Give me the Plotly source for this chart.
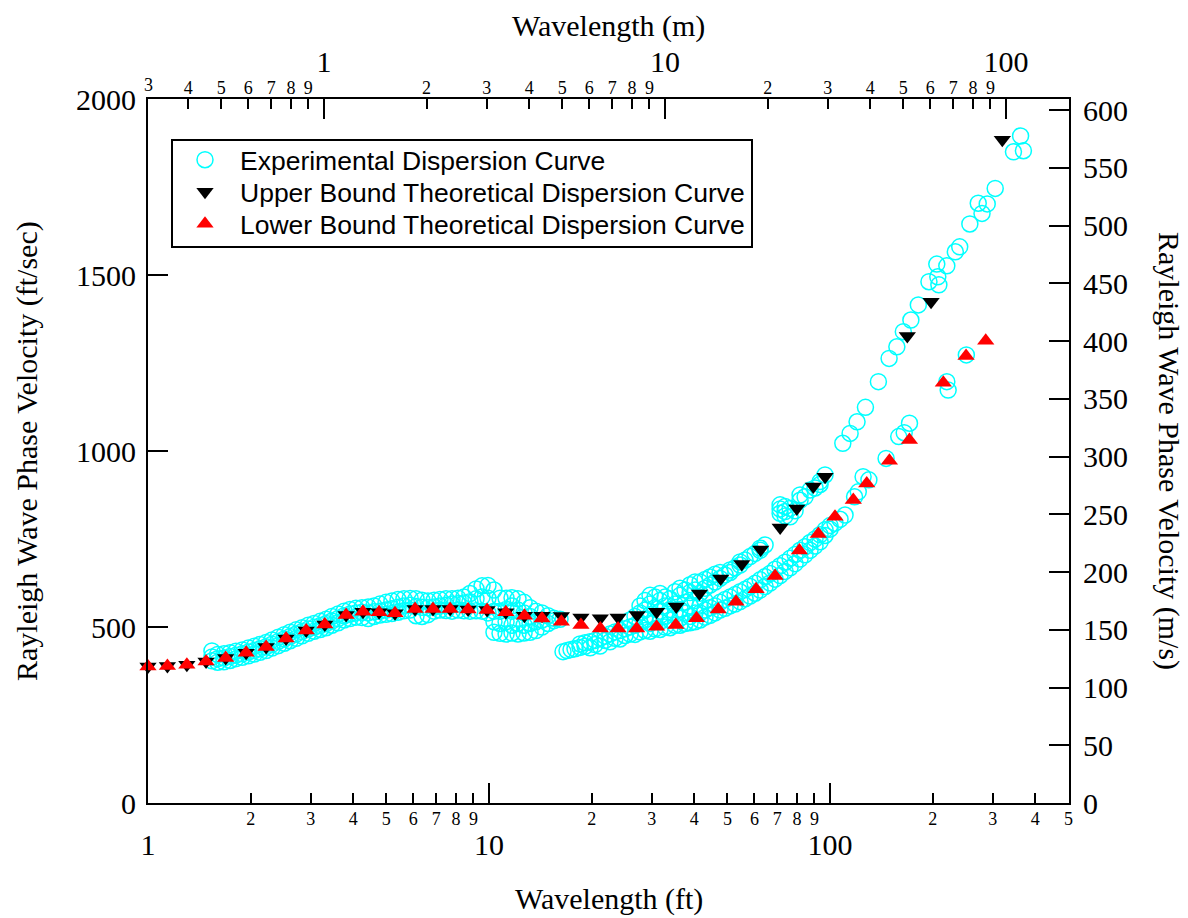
import math
import plotly.graph_objects as go

# ---------------- data (wavelength in ft, phase velocity in ft/s) ----------------
upper_ft = [1.0, 1.14, 1.30, 1.48, 1.69, 1.94, 2.22, 2.54, 2.91, 3.30, 3.81, 4.27, 4.76, 5.30,
            6.07, 6.85, 7.69, 8.68, 9.87, 11.2, 12.7, 14.3, 16.3, 18.6, 21.2, 23.9, 27.2, 31.0,
            35.4, 41.4, 47.8, 55.1, 62.6, 71.4, 79.9, 89.3, 96.7, 168.5, 197.8, 320.0]
upper_v = [388, 389, 393, 402, 412, 427, 443, 467, 490, 507, 534, 543, 542, 539,
           551, 551, 551, 550, 548, 542, 532, 532, 531, 527, 525, 527, 534, 543,
           558, 595, 638, 679, 720, 783, 837, 899, 927, 1327, 1424, 1884]

lower_ft = [1.0, 1.14, 1.30, 1.48, 1.69, 1.94, 2.22, 2.54, 2.91, 3.30, 3.81, 4.27, 4.76, 5.30,
            6.07, 6.85, 7.69, 8.68, 9.87, 11.2, 12.7, 14.3, 16.3, 18.6, 21.2, 23.9, 27.1, 31.0,
            35.3, 40.6, 47.0, 53.0, 60.7, 69.0, 81.3, 92.4, 103.4, 117.0, 128.1, 149.3, 170.9,
            214.9, 250.5, 286.1]
lower_v = [388, 389, 393, 402, 412, 427, 443, 467, 490, 507, 534, 543, 542, 539,
           551, 551, 551, 550, 548, 542, 532, 524, 515, 506, 496, 496, 496, 501,
           506, 525, 550, 572, 607, 645, 717, 764, 813, 861, 908, 972, 1031,
           1194, 1270, 1313]

# experimental dispersion curve: dense part (several velocities per wavelength)
exp_ft = [1.54, 1.60, 1.67, 1.74, 1.81, 1.89, 1.97, 2.05, 2.13, 2.22, 2.31, 2.41, 2.51, 2.61,
          2.72, 2.83, 2.95, 3.07, 3.20, 3.33, 3.46, 3.61, 3.76, 3.91, 4.07, 4.24, 4.42, 4.60,
          4.79, 4.99, 5.19, 5.41, 5.63, 5.87, 6.11, 6.36, 6.62, 6.90, 7.18, 7.48, 7.79, 8.11,
          8.44, 8.79, 9.16, 9.54, 9.93, 10.34, 10.77, 11.22, 11.68, 12.16, 12.67, 13.19, 13.73,
          14.30, 14.89, 15.50, 16.15,
          16.48, 16.93, 17.40, 17.87, 18.49, 19.12, 19.78, 20.46, 21.16, 21.89, 22.63, 23.41,
          24.22, 25.05, 25.91, 26.80, 27.72, 28.67, 29.66, 30.68, 31.73, 32.82, 33.95, 35.12,
          36.32, 37.57, 38.86, 40.19, 41.58, 43.00, 44.48, 46.01, 47.59, 49.22, 50.91, 52.66,
          54.47, 56.34, 58.28, 60.28, 62.35, 64.49, 66.70, 68.99, 71.37, 73.82, 76.35, 78.98,
          81.66, 84.47, 87.37, 90.36, 93.48, 96.67, 100.0, 103.4, 106.98, 110.66]
exp_v = [[432, 415, 404], [422, 410, 400], [424, 412, 401], [427, 416, 405], [431, 420, 410],
         [435, 424, 414], [440, 429, 418], [445, 433, 423], [450, 438, 428], [456, 444, 433],
         [463, 451, 440], [471, 459, 447], [478, 466, 454], [485, 473, 461], [492, 480, 468],
         [498, 487, 475], [505, 494, 482], [510, 499, 488], [516, 504, 493], [522, 510, 498],
         [530, 517, 505], [537, 524, 512], [545, 532, 520], [550, 537, 524], [553, 540, 528],
         [555, 542, 527], [557, 540, 524], [560, 543, 530], [565, 545, 534], [570, 548, 536],
         [574, 552, 538], [578, 556, 542], [580, 560, 546], [581, 562, 548], [580, 558, 532],
         [576, 556, 530], [574, 555, 535], [576, 557, 545], [578, 560, 548], [580, 562, 547],
         [580, 565, 545], [582, 566, 548], [585, 568, 546], [595, 572, 545], [608, 580, 546],
         [617, 585, 545], [618, 582, 540], [605, 545, 515, 485], [582, 545, 510, 482],
         [582, 550, 515, 480], [583, 560, 545, 505, 483], [580, 548, 510, 480],
         [570, 540, 505, 483], [555, 530, 510, 485], [545, 515, 490], [540, 520, 500],
         [532, 510], [525, 518], [522],
         [430], [433], [436], [438], [442, 452], [445, 455], [441, 458], [450, 462], [446, 468],
         [462, 474], [458, 480], [468, 486], [466, 490], [476, 495], [480, 500, 520],
         [479, 505, 530], [486, 512, 540, 560], [490, 520, 548, 575], [488, 510, 535, 565, 590],
         [495, 525, 555, 585], [493, 515, 545, 575, 595], [500, 530, 560, 585],
         [498, 520, 550, 580], [505, 535, 565, 600], [505, 525, 550, 590, 610],
         [510, 540, 570, 605], [512, 530, 560, 598, 620], [515, 540, 575, 605, 628],
         [520, 540, 560, 596, 628], [528, 548, 575, 610, 635], [533, 555, 619, 642],
         [540, 560, 628, 650], [548, 570, 638, 655], [553, 578, 648], [560, 585, 655, 662],
         [565, 592, 668], [572, 600, 676, 685], [580, 607, 690], [588, 615, 700],
         [596, 624, 709], [605, 634, 718, 724], [615, 643, 733], [625, 652], [636, 664],
         [646, 674, 823, 835, 847], [658, 684, 815, 828, 842], [668, 695, 813, 837],
         [680, 706, 830], [693, 718, 860, 875], [705, 728, 870], [718, 740, 889],
         [730, 750, 895], [742, 762, 905, 913], [760, 776, 932], [778, 788], [795], [806], [818]]

# experimental dispersion curve: sparse long-wavelength points
exp_hi_ft = [109.0, 114.5, 120.0, 127.0, 138.6, 149.0, 157.0, 164.0, 172.6, 181.5, 195.0, 205.6,
             207.0, 208.5, 220.0, 233.0, 240.0, 257.0, 272.0, 279.0, 289.0, 305.0, 345.0, 362.0,
             369.0,
             118.0, 121.0, 125.0, 130.0, 146.0, 159.0, 165.0, 171.0, 220.0, 222.0, 251.0]
exp_hi_v = [1022, 1050, 1083, 1124, 1197, 1263, 1296, 1339, 1372, 1415, 1481, 1531,
            1495, 1472, 1526, 1566, 1580, 1645, 1704, 1675, 1702, 1746, 1850, 1895,
            1853,
            870, 884, 927, 918, 979, 1041, 1052, 1079, 1197, 1173, 1273]

# axis ticks
ft_minor = [2, 3, 4, 5, 6, 7, 8, 9, 20, 30, 40, 50, 60, 70, 80, 90, 200, 300, 400, 500]
ft_major = [1, 10, 100]
m_minor = [0.4, 0.5, 0.6, 0.7, 0.8, 0.9, 2, 3, 4, 5, 6, 7, 8, 9, 20, 30, 40, 50, 60, 70, 80, 90]
m_major = [1, 10, 100]
fps_ticks = [0, 500, 1000, 1500, 2000]
ms_ticks = [0, 50, 100, 150, 200, 250, 300, 350, 400, 450, 500, 550, 600]

legend_names = ['Experimental Dispersion Curve',
                'Upper Bound Theoretical Dispersion Curve',
                'Lower Bound Theoretical Dispersion Curve']

FT_TO_M = 0.3048
X_MAX_FT = 502.0

# ---------------- build ----------------
ex, ey = [], []
for f, vs in zip(exp_ft, exp_v):
    for v in vs:
        ex.append(f)
        ey.append(v)
ex += exp_hi_ft
ey += exp_hi_v


def lead(v):
    s = ('%g' % v)
    return s.replace('0.', '')[0] if v < 1 else s[0]


SERIF = 'Liberation Serif'
SANS = 'Liberation Sans'

# page body has an 8 px margin: figure is placed at (8, 8)
W, H = 1180, 910
PL, PR, PT, PB = 140, 119, 91, 115           # plot area = page x 148..1069, y 99..803
PW = W - PL - PR                              # 921
PH = H - PT - PB                              # 704


def px_x(page_x):
    return (page_x - 148) / PW


def px_y(page_y):
    return (803 - page_y) / PH


fig = go.Figure()
fig.add_trace(go.Scatter(
    x=ex, y=ey, mode='markers', name=legend_names[0], legend='legend',
    marker=dict(symbol='circle-open', size=16, color='#00FFFF', line=dict(width=1.5, color='#00FFFF')),
    cliponaxis=False))
fig.add_trace(go.Scatter(
    x=upper_ft, y=upper_v, mode='markers', name=legend_names[1], legend='legend2',
    marker=dict(symbol='triangle-down', size=15, color='black', line=dict(width=0)),
    cliponaxis=False))
fig.add_trace(go.Scatter(
    x=lower_ft, y=lower_v, mode='markers', name=legend_names[2], legend='legend3',
    marker=dict(symbol='triangle-up', size=15, color='#FF0000', line=dict(width=0)),
    cliponaxis=False))
# empty traces so that the secondary axes are attached
for xa, ya in [('x2', 'y2'), ('x3', 'y'), ('x4', 'y')]:
    fig.add_trace(go.Scatter(x=[], y=[], xaxis=xa, yaxis=ya, showlegend=False, hoverinfo='skip'))

lx0 = 0.0
lx1 = math.log10(X_MAX_FT)
mx0 = math.log10(FT_TO_M)
mx1 = mx0 + (lx1 - lx0)

common = dict(showgrid=False, zeroline=False, tickcolor='black', tickwidth=2, ticks='inside')
small_font = dict(family=SERIF, size=18, color='black')
big_font = dict(family=SERIF, size=30, color='black')


def one_legend(page_y):
    return dict(x=px_x(170), y=px_y(page_y), xanchor='left', yanchor='middle',
                borderwidth=0, bgcolor='rgba(0,0,0,0)',
                font=dict(family=SANS, size=26.5, color='black'), itemwidth=60)


fig.update_layout(
    width=W, height=H,
    margin=dict(l=PL, r=PR, t=PT, b=PB),
    paper_bgcolor='white', plot_bgcolor='white',
    xaxis=dict(type='log', range=[lx0, lx1], tickmode='array', tickvals=ft_minor,
               ticktext=[('%g' % v)[0] for v in ft_minor], ticklen=10,
               showline=True, linewidth=2, linecolor='black',
               tickfont=small_font, ticklabelstandoff=-2, **common),
    xaxis3=dict(type='log', range=[lx0, lx1], overlaying='x', anchor='y', side='bottom',
                tickmode='array', tickvals=ft_major, ticktext=['%g' % v for v in ft_major],
                ticklen=20, showline=False, tickfont=big_font, ticklabelstandoff=21, **common),
    xaxis2=dict(type='log', range=[mx0, mx1], overlaying='x', anchor='y', side='top',
                tickmode='array', tickvals=m_minor, ticktext=[lead(v) for v in m_minor],
                ticklen=10, showline=True, linewidth=2, linecolor='black',
                tickfont=small_font, ticklabelstandoff=-4, **common),
    xaxis4=dict(type='log', range=[mx0, mx1], overlaying='x', anchor='y', side='top',
                tickmode='array', tickvals=m_major, ticktext=['%g' % v for v in m_major],
                ticklen=20, showline=False, tickfont=big_font, ticklabelstandoff=20, **common),
    yaxis=dict(range=[0, 2000], tickmode='array', tickvals=fps_ticks,
               ticktext=[str(v) for v in fps_ticks], ticklen=20,
               showline=True, linewidth=2, linecolor='black',
               tickfont=big_font, ticklabelstandoff=4, **common),
    yaxis2=dict(range=[0, 2000 * FT_TO_M], overlaying='y', anchor='x', side='right',
                tickmode='array', tickvals=ms_ticks, ticktext=[str(v) for v in ms_ticks],
                ticklen=20, showline=True, linewidth=2, linecolor='black',
                tickfont=big_font, ticklabelstandoff=6, **common),
    legend=one_legend(160),
    legend2=one_legend(192),
    legend3=one_legend(224),
    showlegend=True,
    shapes=[dict(type='rect', xref='paper', yref='paper',
                 x0=px_x(172), x1=px_x(752), y0=px_y(247), y1=px_y(140),
                 line=dict(color='black', width=2), fillcolor='rgba(0,0,0,0)', layer='above')],
    annotations=[
        dict(text='3', xref='paper', yref='paper', x=0.0, y=1.0, xanchor='center', yanchor='bottom',
             yshift=2, showarrow=False, font=small_font),
        dict(text='Wavelength (m)', xref='paper', yref='paper', x=0.5, y=px_y(26),
             xanchor='center', yanchor='middle', showarrow=False, font=big_font),
        dict(text='Wavelength (ft)', xref='paper', yref='paper', x=0.5, y=px_y(899),
             xanchor='center', yanchor='middle', showarrow=False, font=big_font),
        dict(text='Rayleigh Wave Phase Velocity (ft/sec)', xref='paper', yref='paper',
             x=px_x(27), y=0.5, xanchor='center', yanchor='middle', textangle=-90,
             showarrow=False, font=big_font),
        dict(text='Rayleigh Wave Phase Velocity (m/s)', xref='paper', yref='paper',
             x=px_x(1169), y=0.5, xanchor='center', yanchor='middle', textangle=90,
             showarrow=False, font=big_font),
    ],
)

fig.write_html('out.html')
